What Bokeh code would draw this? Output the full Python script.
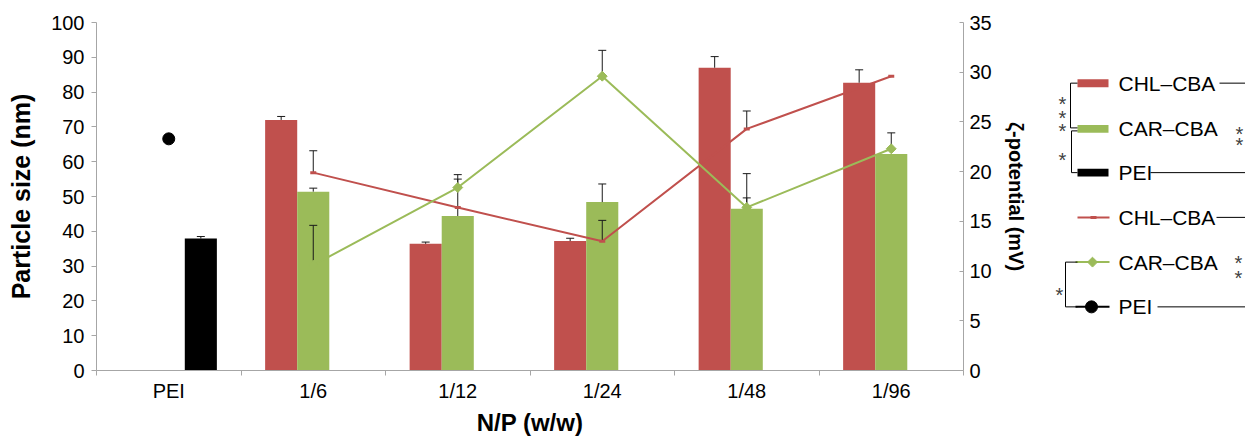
import math
from bokeh.plotting import figure
from bokeh.models import Range1d, LinearAxis, FixedTicker
from bokeh.layouts import row
from bokeh.embed import file_html
from bokeh.resources import INLINE
from bokeh.core.properties import value

nan = float("nan")

# ---------------- data ----------------
categories = ["PEI", "1/6", "1/12", "1/24", "1/48", "1/96"]
size_ticks = [0, 10, 20, 30, 40, 50, 60, 70, 80, 90, 100]
zeta_ticks = [0, 5, 10, 15, 20, 25, 30, 35]

# particle size (nm), bars
chl_size = [nan, 72.0, 36.4, 37.2, 87.0, 82.7]
chl_size_err = [nan, 1.0, 0.5, 0.8, 3.2, 3.7]
car_size = [nan, 51.4, 44.4, 48.4, 46.5, 62.2]
car_size_err = [nan, 1.0, 10.6, 5.2, 3.1, nan]
pei_size = [37.9, nan, nan, nan, nan, nan]
pei_size_err = [0.6, nan, nan, nan, nan, nan]

# zeta potential (mV), lines
chl_zeta = [nan, 19.9, 16.4, 13.0, 24.3, 29.6]
chl_zeta_err = [nan, 2.2, nan, 2.1, 1.8, nan]
car_zeta = [nan, 10.6, 18.4, 29.6, 16.4, 22.3]
car_zeta_err = [nan, 4.0, 1.3, 2.6, 3.4, 1.6]
pei_zeta = [23.3, nan, nan, nan, nan, nan]

legend_labels = ["CHL–CBA", "CAR–CBA", "PEI", "CHL–CBA", "CAR–CBA", "PEI"]

# ---------------- style ----------------
RED = "#C0504D"
GREEN = "#9BBB59"
BLACK = "#000000"
AXIS = "#A6A6A6"
FONT = "Liberation Sans"
BAR_W = 0.222
TOP_B, BOTTOM_B = 22, 66

centers = [i + 0.5 for i in range(len(categories))]

p = figure(width=1045, height=438, x_range=Range1d(0, len(categories)),
           y_range=Range1d(0, 100), output_backend="svg", toolbar_location=None,
           min_border_left=96, min_border_right=82, min_border_top=TOP_B,
           min_border_bottom=BOTTOM_B)
p.extra_y_ranges = {"zeta": Range1d(0, 35)}
p.outline_line_color = None
p.xgrid.visible = False
p.ygrid.visible = False
p.background_fill_color = "white"
p.border_fill_color = "white"

# x axis
xa = p.xaxis[0]
xa.ticker = FixedTicker(ticks=centers, minor_ticks=list(range(len(categories) + 1)))
xa.major_label_overrides = {c: lab for c, lab in zip(centers, categories)}
xa.major_tick_out = 0
xa.major_tick_in = 0
xa.minor_tick_out = 5
xa.minor_tick_in = 0
xa.minor_tick_line_color = AXIS
xa.axis_line_color = AXIS
xa.major_label_text_font = FONT
xa.major_label_text_font_size = "20px"
xa.major_label_text_color = BLACK
xa.major_label_standoff = 4
xa.axis_label = "N/P (w/w)"
xa.axis_label_text_font = FONT
xa.axis_label_text_font_size = "24px"
xa.axis_label_text_font_style = "bold"
xa.axis_label_text_color = BLACK
xa.axis_label_standoff = 4

# left axis
ya = p.yaxis[0]
ya.ticker = FixedTicker(ticks=size_ticks)
ya.major_tick_out = 5
ya.major_tick_in = 0
ya.minor_tick_out = 0
ya.minor_tick_in = 0
ya.major_tick_line_color = AXIS
ya.axis_line_color = AXIS
ya.major_label_text_font = FONT
ya.major_label_text_font_size = "20px"
ya.major_label_text_color = BLACK
ya.major_label_standoff = 7
ya.axis_label = "Particle size (nm)"
ya.axis_label_text_font = FONT
ya.axis_label_text_font_size = "25px"
ya.axis_label_text_font_style = "bold"
ya.axis_label_text_color = BLACK
ya.axis_label_standoff = 13

# right axis
ra = LinearAxis(y_range_name="zeta", ticker=FixedTicker(ticks=zeta_ticks))
ra.major_tick_out = 0
ra.major_tick_in = 4
ra.minor_tick_out = 0
ra.minor_tick_in = 0
ra.major_tick_line_color = AXIS
ra.axis_line_color = AXIS
ra.major_label_text_font = FONT
ra.major_label_text_font_size = "20px"
ra.major_label_text_color = BLACK
ra.major_label_standoff = 6
ra.axis_label = "ζ-potential (mV)"
ra.axis_label_text_font = FONT
ra.axis_label_text_font_size = "20px"
ra.axis_label_text_font_style = "bold"
ra.axis_label_text_color = BLACK
ra.axis_label_standoff = 10
p.add_layout(ra, "right")

# ---------------- bars ----------------
def bars(vals, offset, color):
    xs = [c + offset for c, v in zip(centers, vals) if not math.isnan(v)]
    ys = [v for v in vals if not math.isnan(v)]
    p.vbar(x=xs, top=ys, bottom=0, width=BAR_W, fill_color=color, line_color=None)


def errbars(vals, errs, offset, range_name="default"):
    xs, lo, hi = [], [], []
    for c, v, e in zip(centers, vals, errs):
        if math.isnan(v) or math.isnan(e):
            continue
        xs.append(c + offset)
        lo.append(v)
        hi.append(v + e)
    p.segment(x0=xs, y0=lo, x1=xs, y1=hi, line_color="#1a1a1a", line_width=1,
              y_range_name=range_name)
    p.scatter(x=xs, y=hi, marker="dash", size=8, line_color="#1a1a1a", line_width=1,
              y_range_name=range_name)


bars(chl_size, -BAR_W, RED)
bars(car_size, 0.0, GREEN)
bars(pei_size, BAR_W, BLACK)
errbars(chl_size, chl_size_err, -BAR_W)
errbars(car_size, car_size_err, 0.0)
errbars(pei_size, pei_size_err, BAR_W)

# ---------------- lines ----------------
p.line(x=centers, y=chl_zeta, line_color=RED, line_width=2, y_range_name="zeta")
p.line(x=centers, y=car_zeta, line_color=GREEN, line_width=2, y_range_name="zeta")
errbars(chl_zeta, chl_zeta_err, 0.0, "zeta")
errbars(car_zeta, car_zeta_err, 0.0, "zeta")
p.scatter(x=centers, y=chl_zeta, marker="dash", size=6, line_width=3, line_color=RED,
          y_range_name="zeta")
p.scatter(x=centers, y=car_zeta, marker="square", angle=math.pi / 4, size=7,
          fill_color=GREEN, line_color=GREEN, y_range_name="zeta")
p.scatter(x=centers, y=pei_zeta, marker="circle", size=12, fill_color=BLACK,
          line_color=BLACK, y_range_name="zeta")

# ---------------- legend panel (pixel-like coordinates) ----------------
lg = figure(width=200, height=438, x_range=Range1d(1045, 1245),
            y_range=Range1d(438 - BOTTOM_B, TOP_B),
            output_backend="svg", toolbar_location=None, x_axis_type=None, y_axis_type=None,
            min_border_left=0, min_border_right=0, min_border_top=TOP_B,
            min_border_bottom=BOTTOM_B)
lg.outline_line_color = None
lg.xgrid.visible = False
lg.ygrid.visible = False

legend_y = [83, 129, 173, 218, 263, 308]
text_x = 1118

# bar swatches
lg.quad(left=[1077] * 3, right=[1108] * 3, top=[y - 4 for y in legend_y[:3]],
        bottom=[y + 4 for y in legend_y[:3]], fill_color=[RED, GREEN, BLACK], line_color=None)
# line swatches
lg.segment(x0=[1077, 1075, 1075], y0=legend_y[3:], x1=[1109] * 3, y1=legend_y[3:],
           line_color=[RED, GREEN, BLACK], line_width=2)
lg.scatter(x=[1093], y=[legend_y[3]], marker="dash", size=6, line_width=3, line_color=RED)
lg.scatter(x=[1092], y=[legend_y[4]], marker="square", angle=math.pi / 4, size=7,
           fill_color=GREEN, line_color=GREEN)
lg.scatter(x=[1091], y=[legend_y[5]], marker="circle", size=12, fill_color=BLACK,
           line_color=BLACK)
lg.text(x=[text_x] * 6, y=legend_y, text=legend_labels, text_font=value(FONT),
        text_font_size="21px", text_baseline="middle", text_align="left", text_color=BLACK)
# trailing lines
lg.segment(x0=[1219, 1150, 1216, 1157], y0=[83, 173, 218, 308], x1=[1245] * 4,
           y1=[83, 173, 218, 308], line_color=BLACK, line_width=1)
# brackets
bx0 = [1070, 1070, 1070, 1071, 1071, 1071, 1065, 1065, 1065]
by0 = [83, 83, 128, 131, 131, 173, 263, 263, 308]
bx1 = [1077, 1070, 1077, 1077, 1071, 1077, 1077, 1065, 1077]
by1 = [83, 128, 128, 131, 173, 173, 263, 308, 308]
lg.segment(x0=bx0, y0=by0, x1=bx1, y1=by1, line_color=BLACK, line_width=1)
# asterisks
ast_x = [1062, 1062, 1062, 1062, 1239, 1239, 1059, 1238, 1238]
ast_y = [93, 107, 120, 149, 123, 134, 285, 253, 268]
lg.text(x=ast_x, y=[y + 11 for y in ast_y], text=["*"] * len(ast_x), text_font=value(FONT),
        text_font_size="20px", text_baseline="alphabetic", text_align="center",
        text_color="#404040")

layout = row(p, lg)
open("out.html", "w").write(file_html(layout, INLINE))
